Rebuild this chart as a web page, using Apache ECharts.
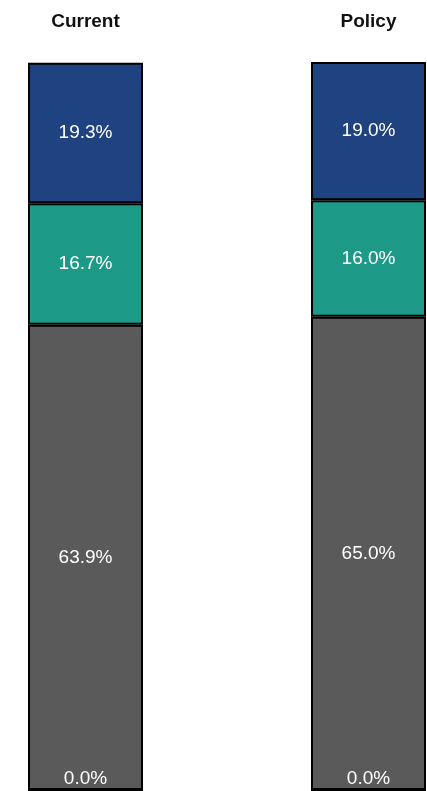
<!DOCTYPE html>
<html>
<head>
<meta charset="utf-8">
<script src="https://cdn.jsdelivr.net/npm/echarts@6/dist/echarts.min.js"></script>
<style>
html,body{margin:0;padding:0;background:#fff;overflow:hidden;width:427px;height:791px;}
#c{position:absolute;left:-56px;top:0;width:566px;height:791px;}
</style>
</head>
<body>
<div id="c"></div>
<script>
const categories = ['Current', 'Policy'];
const baseValues = [0.0, 0.0];
const grayValues = [63.9, 65.0];
const tealValues = [16.7, 16.0];
const navyValues = [19.3, 19.0];

const chart = echarts.init(document.getElementById('c'), null, {renderer: 'canvas'});
const lbl = {
  show: true,
  position: 'inside',
  color: '#ffffff',
  fontFamily: 'Liberation Sans, Arial, sans-serif',
  fontSize: 19,
  formatter: p => p.value.toFixed(1) + '%'
};
function seg(name, data, color, extraLabel) {
  return {
    name: name,
    type: 'bar',
    stack: 'total',
    data: data,
    barWidth: 115,
    itemStyle: {color: color, borderColor: '#000000', borderWidth: 2},
    label: Object.assign({}, lbl, extraLabel || {}),
    emphasis: {disabled: true}
  };
}
chart.setOption({
  animation: false,
  grid: {left: 0, right: 0, top: 62, bottom: 1, containLabel: false},
  xAxis: {
    type: 'category',
    data: categories,
    position: 'top',
    axisLine: {show: false},
    axisTick: {show: false},
    axisLabel: {
      margin: 31,
      color: '#111111',
      fontWeight: 'bold',
      fontSize: 19,
      fontFamily: 'Liberation Sans, Arial, sans-serif'
    }
  },
  yAxis: {
    type: 'value',
    min: 0,
    max: 100,
    show: false,
    splitLine: {show: false}
  },
  series: [
    seg('Base', baseValues, '#5a5a5a', {position: 'top', distance: 1}),
    seg('Gray', grayValues, '#5a5a5a'),
    seg('Teal', tealValues, '#1c9a87'),
    seg('Navy', navyValues, '#1f4280')
  ]
});
</script>
</body>
</html>
